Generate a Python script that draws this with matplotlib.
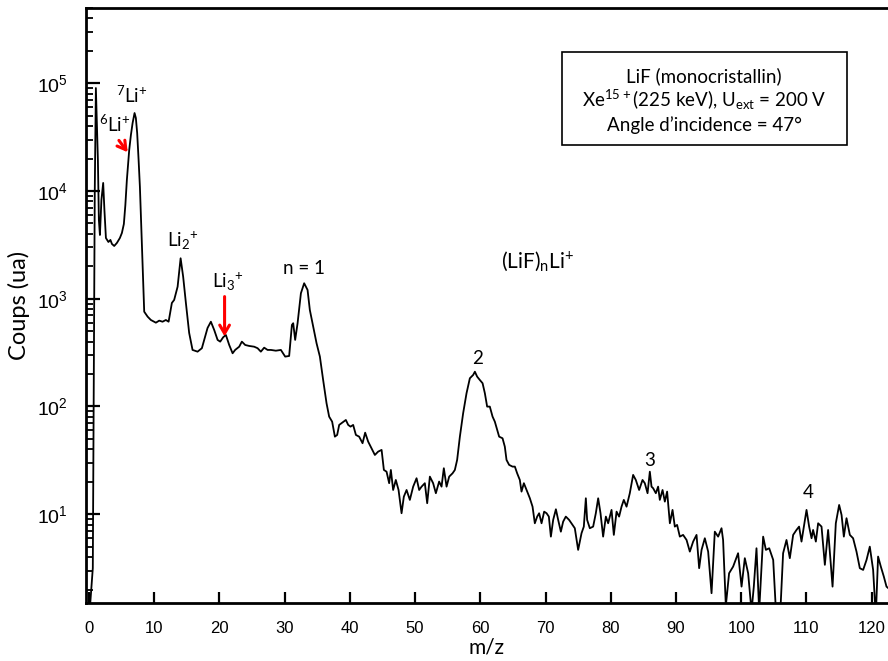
import numpy as np
import matplotlib
matplotlib.use('Agg')
import matplotlib.pyplot as plt
from matplotlib.patches import Rectangle

plt.rcParams['font.family'] = ['Liberation Sans', 'DejaVu Sans']
plt.rcParams['mathtext.default'] = 'regular'

LABEL_FONT = ['Lato', 'DejaVu Sans']

# spectrum: m/z and log10(counts)
mz = [0.0, 0.6, 0.9, 1.07, 1.38, 1.53, 1.69, 1.92, 2.19, 2.38, 2.61, 2.99, 3.30, 3.53,
      3.88, 4.29, 4.75, 5.06, 5.36, 5.59, 5.82, 6.18, 6.44, 6.70, 7.00, 7.20, 7.40,
      7.62, 7.82, 8.02, 8.23, 8.43, 8.48, 9.00, 9.50, 10.27, 10.78, 11.29, 11.80,
      12.22, 12.72, 13.07, 13.60, 14.06, 14.45, 14.87, 15.37, 15.89, 16.66, 17.32,
      17.67, 18.19, 18.70, 19.21, 19.73, 20.13, 20.59, 21.00, 21.51, 22.03, 22.42,
      23.04, 23.45, 23.96, 24.57, 25.34, 25.86, 26.36, 26.87, 27.39, 27.90, 28.66,
      29.43, 30.09, 30.70, 31.12, 31.32, 31.62, 31.99, 32.50, 33.00, 33.52, 33.87,
      34.38, 34.90, 35.41, 35.91, 36.43, 36.83, 37.29, 37.71, 38.06, 38.37, 38.73,
      39.39, 39.75, 40.11, 40.51, 40.93, 41.43, 41.95, 42.35, 42.81, 43.33, 43.84,
      44.34, 44.87, 45.22, 45.63, 46.03, 46.29, 46.64, 47.05, 47.47, 47.93, 48.28,
      48.70, 49.20, 49.71, 50.23, 50.63, 51.00, 51.50, 51.86, 52.27, 52.77, 53.19,
      53.69, 54.06, 54.41, 54.83, 55.23, 55.75, 56.10, 56.45, 56.87, 57.37, 57.89,
      58.40, 58.91, 59.17, 59.52, 59.93, 60.35, 60.70, 61.05, 61.46, 61.88, 62.23,
      62.89, 63.41, 63.76, 64.02, 64.42, 64.94, 65.30, 65.65, 66.06, 66.32, 66.68,
      67.09, 67.60, 68.01, 68.36, 68.72, 69.02, 69.39, 69.79, 70.16, 70.51, 70.82,
      71.17, 71.59, 71.94, 72.35, 72.70, 73.11, 73.62, 74.14, 74.49, 75.00, 75.52,
      75.87, 76.18, 76.38, 76.79, 77.30, 77.71, 78.07, 78.43, 78.83, 79.25, 79.60,
      80.12, 80.47, 80.89, 81.28, 81.65, 82.00, 82.42, 82.92, 83.43, 83.84, 84.35,
      84.87, 85.22, 85.64, 85.99, 86.25, 86.50, 86.91, 87.26, 87.52, 87.94, 88.29,
      88.64, 89.06, 89.47, 89.82, 90.17, 90.59, 91.09, 91.62, 92.12, 92.63, 93.15,
      93.55, 93.92, 94.42, 94.93, 95.45, 95.95, 96.46, 96.98, 97.22, 97.64, 98.14,
      98.76, 99.52, 100.05, 100.55, 101.06, 101.58, 101.93, 102.34, 102.75, 103.36,
      103.78, 104.29, 104.90, 105.41, 105.92, 106.42, 106.94, 107.45, 107.96, 108.47,
      108.87, 109.24, 109.60, 110.01, 110.41, 110.78, 111.02, 111.44, 111.79, 112.31,
      112.82, 113.32, 114.00, 114.50, 115.01, 115.38, 115.73, 116.14, 116.65, 117.15,
      117.67, 118.18, 118.69, 119.21, 119.71, 120.22, 120.63, 120.98, 121.40, 121.86,
      122.27, 122.8]
log_counts = [0.0, 0.5, 4.0, 4.956, 4.288, 3.731, 3.592, 3.917, 4.075, 3.824, 3.564, 3.527,
              3.546, 3.509, 3.490, 3.518, 3.564, 3.611, 3.694, 3.870, 4.102, 4.381, 4.520,
              4.631, 4.724, 4.678, 4.539, 4.288, 4.038, 3.685, 3.295, 2.943, 2.880, 2.834,
              2.803, 2.778, 2.797, 2.787, 2.803, 2.787, 2.961, 2.989, 3.112, 3.376, 3.205,
              2.961, 2.683, 2.525, 2.509, 2.541, 2.618, 2.729, 2.787, 2.710, 2.618, 2.602,
              2.643, 2.664, 2.571, 2.494, 2.525, 2.555, 2.602, 2.571, 2.562, 2.555, 2.541,
              2.509, 2.546, 2.525, 2.525, 2.518, 2.525, 2.463, 2.469, 2.757, 2.773, 2.618,
              2.773, 3.051, 3.144, 3.082, 2.896, 2.741, 2.587, 2.463, 2.246, 2.030, 1.906,
              1.859, 1.720, 1.736, 1.829, 1.845, 1.875, 1.829, 1.813, 1.829, 1.736, 1.720,
              1.659, 1.757, 1.674, 1.612, 1.550, 1.581, 1.597, 1.411, 1.395, 1.288, 1.411,
              1.225, 1.318, 1.225, 1.009, 1.163, 1.225, 1.133, 1.256, 1.334, 1.225, 1.256,
              1.288, 1.102, 1.349, 1.288, 1.195, 1.303, 1.256, 1.427, 1.256, 1.349, 1.380,
              1.411, 1.504, 1.720, 1.937, 2.123, 2.262, 2.293, 2.323, 2.277, 2.246, 2.216,
              2.123, 1.999, 1.999, 1.906, 1.859, 1.720, 1.705, 1.627, 1.504, 1.458, 1.442,
              1.442, 1.380, 1.318, 1.210, 1.288, 1.225, 1.148, 1.070, 0.916, 0.978, 1.009,
              0.916, 1.024, 1.009, 0.978, 0.792, 0.947, 1.046, 0.947, 0.838, 0.931, 0.978,
              0.947, 0.901, 0.870, 0.669, 0.824, 0.885, 1.148, 0.947, 0.870, 0.885, 1.009,
              1.148, 1.009, 0.792, 0.978, 0.916, 1.040, 0.808, 1.024, 0.978, 1.070, 1.133,
              1.070, 1.195, 1.365, 1.318, 1.225, 1.318, 1.288, 1.195, 1.395, 1.256, 1.241,
              1.195, 1.256, 1.133, 1.225, 1.117, 1.210, 0.916, 1.040, 0.885, 0.901, 0.792,
              0.808, 0.761, 0.653, 0.746, 0.808, 0.499, 0.669, 0.777, 0.653, 0.267, 0.838,
              0.792, 0.870, 0.761, 0.15, 0.452, 0.514, 0.638, 0.328, 0.592, 0.452, 0.10,
              0.328, 0.684, 0.10, 0.792, 0.669, 0.684, 0.576, 0.0, 0.0, 0.638, 0.761, 0.592,
              0.808, 0.854, 0.885, 0.746, 0.885, 1.040, 0.885, 0.777, 0.854, 0.746, 0.916,
              0.885, 0.530, 0.854, 0.328, 0.916, 1.086, 0.993, 0.792, 0.963, 0.808, 0.777,
              0.653, 0.499, 0.483, 0.576, 0.699, 0.483, 0.05, 0.607, 0.514, 0.421, 0.328,
              0.30]
counts = 10 ** np.array(log_counts)

fig = plt.figure(figsize=(8.88, 6.61), dpi=100)
ax = fig.add_axes([0.0968, 0.0873, 0.9032, 0.9006])

ax.plot(mz, counts, color='black', lw=1.3)
ax.set_yscale('log')
ax.set_xlim(-0.45, 122.5)
ax.set_ylim(1.49, 5.0e5)
ax.set_xticks(np.arange(0, 130, 10))

for s in ['left', 'bottom', 'top']:
    ax.spines[s].set_linewidth(2.0)
ax.spines['right'].set_visible(False)

ax.tick_params(axis='x', which='major', direction='in', length=8, width=1.6,
               labelsize=12, pad=13, top=False)
ax.tick_params(axis='x', which='minor', bottom=False, top=False)
ax.tick_params(axis='y', which='major', direction='in', length=10, width=1.6,
               labelsize=14, pad=13, right=False)
ax.tick_params(axis='y', which='minor', direction='in', length=5, width=1.3, right=False)

ax.set_xlabel('m/z', family=LABEL_FONT, fontsize=15, labelpad=1)
ax.set_ylabel('Coups (ua)', family=LABEL_FONT, fontsize=17, labelpad=5)

# peak labels
txt = dict(family=LABEL_FONT, fontsize=13.5, ha='center', va='center')
ax.text(6.6, 10**4.89, r'$^{7}$Li$^{+}$', **txt)
ax.text(4.0, 10**4.62, r'$^{6}$Li$^{+}$', **txt)
ax.text(14.4, 10**3.54, r'Li$_{2}$$^{+}$', **txt)
ax.text(21.3, 10**3.16, r'Li$_{3}$$^{+}$', **txt)
ax.text(32.9, 10**3.28, 'n = 1', **txt)
ax.text(68.8, 10**3.35, r'(LiF)$_{n}$Li$^{+}$', family=LABEL_FONT, fontsize=15,
        ha='center', va='center')
ax.text(59.6, 10**2.45, '2', **txt)
ax.text(86.0, 10**1.50, '3', **txt)
ax.text(110.2, 10**1.20, '4', **txt)

arrow = dict(arrowstyle='->,head_length=0.6,head_width=0.35', color='red', lw=2.2,
             shrinkA=0, shrinkB=0)
ax.annotate('', xy=(5.95, 10**4.36), xytext=(4.6, 10**4.47), arrowprops=arrow)
ax.annotate('', xy=(20.8, 10**2.65), xytext=(20.8, 10**3.02), arrowprops=arrow)

# info box
ax.add_patch(Rectangle((0.593, 0.770), 0.3554, 0.1567, transform=ax.transAxes,
                       fill=False, edgecolor='black', lw=1.2))
box = dict(family=LABEL_FONT, fontsize=13.5, ha='center', va='center', transform=ax.transAxes)
ax.text(0.7707, 0.8857, 'LiF (monocristallin)', **box)
ax.text(0.7707, 0.8454, r'Xe$^{15+}$(225 keV), U$_{ext}$ = 200 V', **box)
ax.text(0.7707, 0.8034, 'Angle d\u2019incidence = 47\u00b0', **box)

fig.savefig('out.png', dpi=100)
